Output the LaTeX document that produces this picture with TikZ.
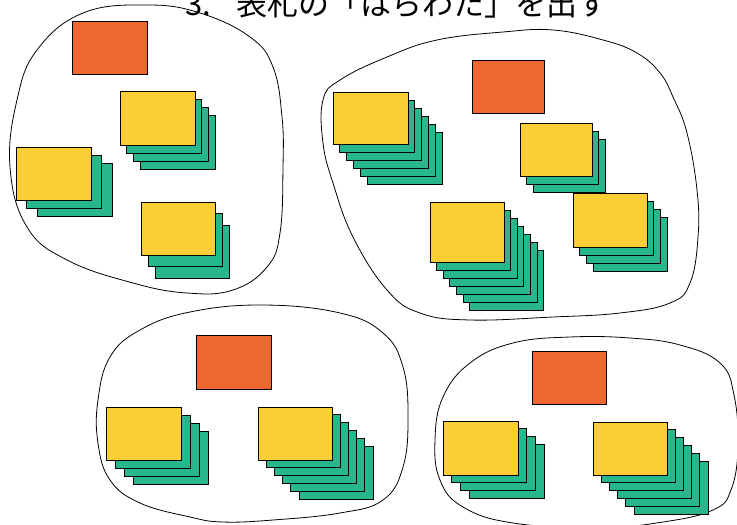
\documentclass[tikz,border=0pt]{standalone}
\usepackage{fontspec}
\newfontfamily\jpfont{Noto Sans CJK JP}
\usetikzlibrary{positioning}

\definecolor{labelred}{RGB}{236,104,46}
\definecolor{cardyellow}{RGB}{251,206,56}
\definecolor{cardgreen}{RGB}{40,182,140}

\tikzset{
  blob/.style={draw=black,line width=0.8pt,smooth cycle,tension=0.7},
  card/.style={draw=black,line width=0.9pt},
}

\begin{document}
\begin{tikzpicture}[x=1pt,y=-1pt]
\useasboundingbox (0,0) rectangle (737,525);
\node[anchor=base west,inner sep=0pt,font=\jpfont\fontsize{31}{31}\selectfont] (title) at (185,15) {3.\hspace{25pt}表札の「はらわた」を出す};
% groups
\draw[blob] plot coordinates {(147,5) (200,13) (250,37) (273,67) (282,117) (283,167) (280,233) (267,267) (233,290) (187,293) (133,283) (67,260) (27,227) (10,167) (17,100) (37,50) (83,13)};
\draw[blob] plot coordinates {(323,100) (340,80) (387,57) (437,40) (503,32) (553,30) (603,40) (637,53) (660,73) (673,97) (687,133) (697,190) (698,237) (690,283) (670,303) (620,313) (553,317) (470,320) (420,313) (387,290) (353,237) (333,183) (323,143)};
\draw[blob] plot coordinates {(263,305) (340,313) (383,333) (403,367) (408,417) (403,467) (383,500) (340,513) (273,520) (223,522) (190,517) (140,503) (110,480) (98,443) (98,400) (110,357) (140,330) (190,312)};
\draw[blob] plot coordinates {(570,337) (630,338) (680,345) (720,363) (734,395) (738,447) (731,490) (713,510) (663,522) (597,528) (513,523) (463,507) (440,480) (435,440) (443,397) (470,363) (513,343)};
% label cards
\foreach \x/\y/\w/\h in {72/21/75/53, 472/60/72/53, 196/335/75/54, 532/351/74/53}
  \filldraw[card,fill=labelred] (\x,\y) rectangle +(\w,\h);
% card stacks: x/y/w/h/count/dx/dy
\foreach \x/\y/\w/\h/\n/\dx/\dy in {120/91/75/54/3/6.7/8, 16/147/75/53/2/10.5/8, 141/202/74/53/2/7/11.5,
    333/92/75/52/5/6.8/8, 520/123/72/53/2/6.7/8, 430/202/74/60/6/6.6/8, 573/193/74/54/3/6.8/8,
    106/407/75/53/3/9/8, 258/407/74/53/5/8.2/7.9,
    443/421/75/54/3/8.7/7.7, 593/422/74/53/5/8.2/7.8}{
  \foreach \k in {\n,...,1}
    \filldraw[card,fill=cardgreen] (\x+\k*\dx,\y+\k*\dy) rectangle +(\w,\h);
  \filldraw[card,fill=cardyellow] (\x,\y) rectangle +(\w,\h);
}
\end{tikzpicture}
\end{document}
